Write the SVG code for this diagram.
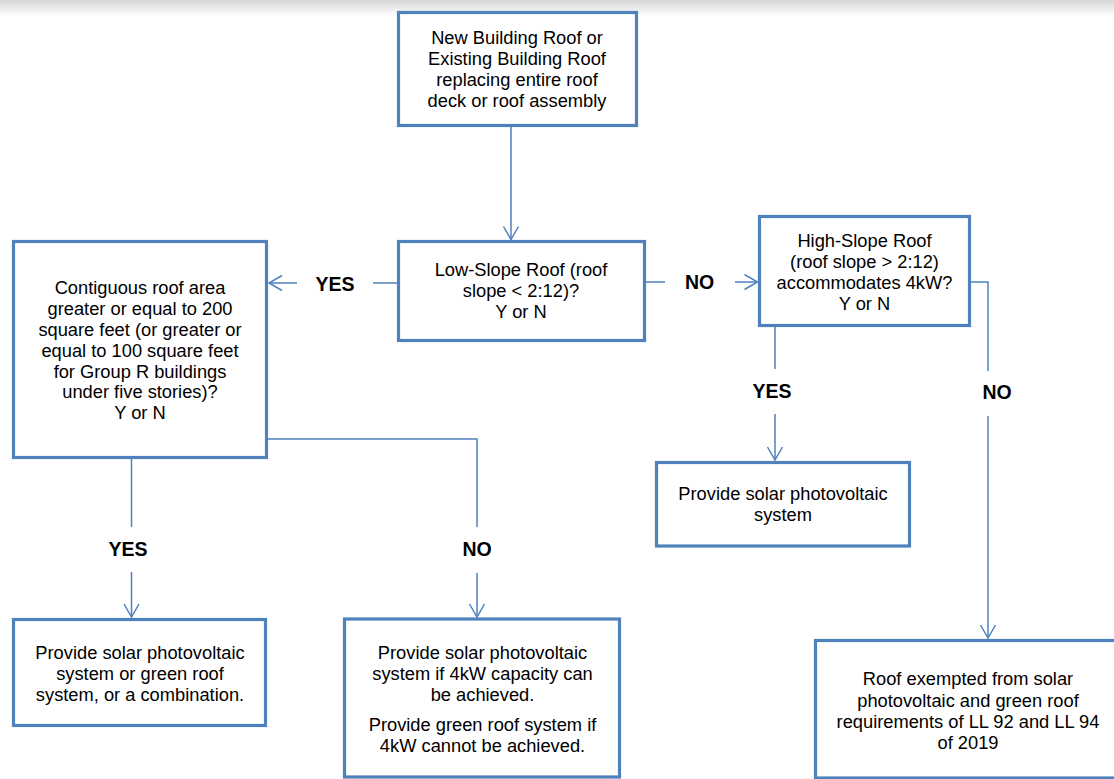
<svg xmlns="http://www.w3.org/2000/svg" width="1114" height="779" viewBox="0 0 1114 779">
  <defs>
    <linearGradient id="topshade" x1="0" y1="0" x2="0" y2="1">
      <stop offset="0" stop-color="#d6d6d6"/>
      <stop offset="1" stop-color="#ffffff"/>
    </linearGradient>
    <marker id="arr" markerUnits="userSpaceOnUse" orient="auto" overflow="visible" refX="0" refY="0" markerWidth="16" markerHeight="18">
      <path d="M-13,-7.5 L0,0 L-13,7.5" fill="none" stroke="#4f81bd" stroke-width="1.5"/>
    </marker>
  </defs>
  <style>
    .box { fill: #ffffff; stroke: #4f81bd; stroke-width: 3.2; }
    .txt { font-family: "Liberation Sans", Arial, sans-serif; font-size: 18.3px; fill: #000; text-anchor: middle; }
    .lbl { font-family: "Liberation Sans", Arial, sans-serif; font-size: 19.5px; font-weight: bold; fill: #000; text-anchor: middle; }
    .ln { fill: none; stroke: #4f81bd; stroke-width: 1.5; }
  </style>
  <rect x="0" y="0" width="1114" height="779" fill="#ffffff"/>
  <rect x="0" y="0" width="1114" height="16" fill="url(#topshade)"/>

  <g id="connectors">
    <line class="ln" x1="511" y1="127" x2="511" y2="239.5" marker-end="url(#arr)"/>
    <line class="ln" x1="397" y1="283" x2="373" y2="283"/>
    <text class="lbl" x="335" y="291">YES</text>
    <line class="ln" x1="297" y1="283" x2="269" y2="283" marker-end="url(#arr)"/>
    <line class="ln" x1="646" y1="282" x2="665" y2="282"/>
    <text class="lbl" x="699.5" y="289">NO</text>
    <line class="ln" x1="735" y1="282" x2="757.5" y2="282" marker-end="url(#arr)"/>
    <line class="ln" x1="775" y1="327" x2="775" y2="369"/>
    <text class="lbl" x="772" y="398">YES</text>
    <line class="ln" x1="775" y1="414" x2="775" y2="460" marker-end="url(#arr)"/>
    <polyline class="ln" points="971,282 988,282 988,371"/>
    <text class="lbl" x="997" y="399">NO</text>
    <line class="ln" x1="988" y1="416" x2="988" y2="638" marker-end="url(#arr)"/>
    <line class="ln" x1="131.5" y1="459" x2="131.5" y2="527"/>
    <text class="lbl" x="128" y="556">YES</text>
    <line class="ln" x1="131.5" y1="572" x2="131.5" y2="617" marker-end="url(#arr)"/>
    <polyline class="ln" points="268,439 477,439 477,527"/>
    <text class="lbl" x="477" y="556">NO</text>
    <line class="ln" x1="477" y1="573" x2="477" y2="617" marker-end="url(#arr)"/>
  </g>

  <g id="start">
    <rect class="box" x="398.5" y="12.5" width="238" height="113"/>
    <text class="txt" x="517" y="43.5">New Building Roof or</text>
    <text class="txt" x="517" y="64.5">Existing Building Roof</text>
    <text class="txt" x="517" y="85.5">replacing entire roof</text>
    <text class="txt" x="517" y="106.5">deck or roof assembly</text>
  </g>

  <g id="low-slope">
    <rect class="box" x="398.5" y="241.5" width="246" height="99"/>
    <text class="txt" x="521" y="275.5">Low-Slope Roof (roof</text>
    <text class="txt" x="521" y="297">slope &lt; 2:12)?</text>
    <text class="txt" x="521" y="318">Y or N</text>
  </g>

  <g id="contiguous">
    <rect class="box" x="13.5" y="241.5" width="253" height="216"/>
    <text class="txt" x="140" y="293.5">Contiguous roof area</text>
    <text class="txt" x="140" y="314.5">greater or equal to 200</text>
    <text class="txt" x="140" y="335.5">square feet (or greater or</text>
    <text class="txt" x="140" y="356.5">equal to 100 square feet</text>
    <text class="txt" x="140" y="377.5">for Group R buildings</text>
    <text class="txt" x="140" y="398">under five stories)?</text>
    <text class="txt" x="140" y="418.5">Y or N</text>
  </g>

  <g id="high-slope">
    <rect class="box" x="759.5" y="216.5" width="210" height="109"/>
    <text class="txt" x="864.5" y="247">High-Slope Roof</text>
    <text class="txt" x="864.5" y="268">(roof slope &gt; 2:12)</text>
    <text class="txt" x="864.5" y="288.5">accommodates 4kW?</text>
    <text class="txt" x="864.5" y="309.5">Y or N</text>
  </g>

  <g id="solar-only">
    <rect class="box" x="656.5" y="462.5" width="253" height="83.5"/>
    <text class="txt" x="783" y="500">Provide solar photovoltaic</text>
    <text class="txt" x="783" y="521">system</text>
  </g>

  <g id="solar-or-green">
    <rect class="box" x="13.5" y="619.5" width="252" height="106"/>
    <text class="txt" x="140" y="659">Provide solar photovoltaic</text>
    <text class="txt" x="140" y="680">system or green roof</text>
    <text class="txt" x="140" y="701">system, or a combination.</text>
  </g>

  <g id="solar-if-4kw">
    <rect class="box" x="344.5" y="619" width="275" height="158"/>
    <text class="txt" x="482.5" y="659">Provide solar photovoltaic</text>
    <text class="txt" x="482.5" y="680">system if 4kW capacity can</text>
    <text class="txt" x="482.5" y="701">be achieved.</text>
    <text class="txt" x="482.5" y="731">Provide green roof system if</text>
    <text class="txt" x="482.5" y="752">4kW cannot be achieved.</text>
  </g>

  <g id="exempt">
    <rect class="box" x="815.5" y="640.5" width="306" height="137.5"/>
    <text class="txt" x="968" y="685">Roof exempted from solar</text>
    <text class="txt" x="968" y="706.5">photovoltaic and green roof</text>
    <text class="txt" x="968" y="727.5">requirements of LL 92 and LL 94</text>
    <text class="txt" x="968" y="748.5">of 2019</text>
  </g>
</svg>
